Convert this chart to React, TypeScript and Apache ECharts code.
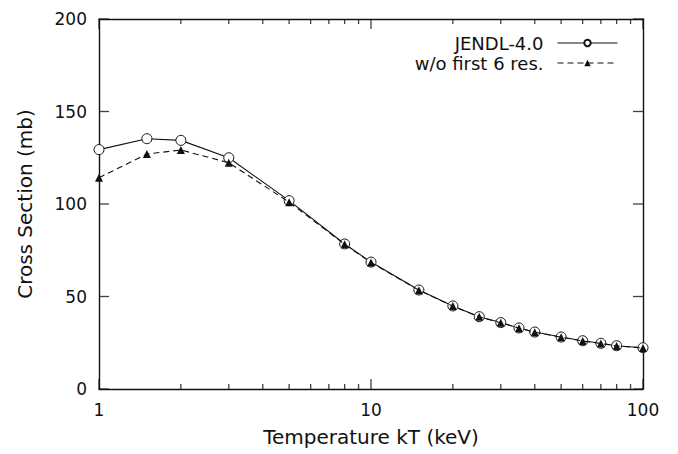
import React, { useEffect, useRef } from "react";
import * as echarts from "echarts";

const temperatures = [1, 1.5, 2, 3, 5, 8, 10, 15, 20, 25, 30, 35, 40, 50, 60, 70, 80, 100];
const jendl = [129.4, 135.3, 134.4, 125, 101.8, 78.4, 68.6, 53.5, 44.9, 39.1, 35.9, 33, 30.8, 28.1, 26.1, 24.7, 23.4, 22.3];
const withoutFirst6 = [114.2, 127, 129.2, 122.3, 101, 78.2, 68.4, 53.4, 44.8, 39, 35.8, 32.9, 30.7, 28, 26, 24.6, 23.3, 22.2];
const majorXTicks = [1, 10, 100];
const minorXTicks = [2, 3, 4, 5, 6, 7, 8, 9, 20, 30, 40, 50, 60, 70, 80, 90];
const yTicks = [0, 50, 100, 150, 200];
const seriesNames = ["JENDL-4.0", "w/o first 6 res."];

const FONT = "'DejaVu Sans', 'Liberation Sans', Arial, sans-serif";
const X_MIN = 1;
const X_MAX = 100;
const Y_MIN = 0;
const Y_MAX = 200;

export default function App() {
  const ref = useRef<HTMLDivElement>(null);
  useEffect(() => {
    if (!ref.current) return;
    const chart = echarts.init(ref.current, null, { renderer: "svg" });
    const axisLine = { show: true, onZero: false, lineStyle: { color: "#111", width: 1.4 } };
    const xBase = {
      type: "log" as const,
      logBase: 10,
      min: X_MIN,
      max: X_MAX,
      axisLine,
      splitLine: { show: false },
      axisTick: { show: false },
    };
    const yBase = {
      type: "value" as const,
      min: Y_MIN,
      max: Y_MAX,
      interval: 50,
      axisLine,
      splitLine: { show: false },
      axisTick: { show: false },
    };
    const W = 1.3;
    const tickSeries = (data: number[][], size: number[], offset: number[]) => ({
      type: "scatter",
      silent: true,
      clip: false,
      symbol: "rect",
      symbolSize: size,
      symbolOffset: offset,
      itemStyle: { color: "#111", borderWidth: 0 },
      data,
      z: 5,
    });
    chart.setOption({
      animation: false,
      backgroundColor: "#fff",
      grid: { left: 99, right: 35, top: 19, bottom: 65 },
      legend: {
        orient: "vertical",
        right: 55,
        top: 29,
        align: "right",
        itemWidth: 60,
        itemHeight: 8,
        itemGap: 2,
        data: seriesNames,
        lineStyle: { width: 1 },
        textStyle: { fontFamily: FONT, fontSize: 18, color: "#111", lineHeight: 17, padding: [0, 9, 0, 0] },
      },
      xAxis: [
        {
          ...xBase,
          position: "bottom",
          name: "Temperature kT (keV)",
          nameLocation: "middle",
          nameGap: 38,
          nameTextStyle: { fontFamily: FONT, fontSize: 20, color: "#111" },
          axisLabel: {
            fontFamily: FONT,
            fontSize: 17,
            color: "#111",
            margin: 12,
            formatter: (v: number) => String(Math.round(v)),
          },
        },
        { ...xBase, position: "top", axisLabel: { show: false } },
      ],
      yAxis: [
        {
          ...yBase,
          position: "left",
          name: "Cross Section (mb)",
          nameLocation: "middle",
          nameGap: 64,
          nameTextStyle: { fontFamily: FONT, fontSize: 20, color: "#111" },
          axisLabel: { fontFamily: FONT, fontSize: 17, color: "#111", margin: 12 },
        },
        { ...yBase, position: "right", axisLabel: { show: false } },
      ],
      series: [
        {
          name: seriesNames[0],
          type: "line",
          data: temperatures.map((t, i) => [t, jendl[i]]),
          symbol: "circle",
          symbolSize: 10,
          lineStyle: { color: "#111", width: 1.1, type: "solid" },
          itemStyle: { color: "#fff", borderColor: "#111", borderWidth: 1 },
          z: 3,
        },
        {
          name: seriesNames[1],
          type: "line",
          data: temperatures.map((t, i) => [t, withoutFirst6[i]]),
          symbol: "triangle",
          symbolSize: 8,
          lineStyle: { color: "#111", width: 1.1, type: [6, 4] },
          itemStyle: { color: "#111", borderWidth: 0 },
          z: 4,
        },
        tickSeries(majorXTicks.map((v) => [v, Y_MIN]), [W, 10], [0, -5]),
        tickSeries(majorXTicks.map((v) => [v, Y_MAX]), [W, 10], [0, 5]),
        tickSeries(minorXTicks.map((v) => [v, Y_MIN]), [W, 5], [0, -2.5]),
        tickSeries(minorXTicks.map((v) => [v, Y_MAX]), [W, 5], [0, 2.5]),
        tickSeries(yTicks.map((v) => [X_MIN, v]), [10, W], [5, 0]),
        tickSeries(yTicks.map((v) => [X_MAX, v]), [10, W], [-5, 0]),
      ],
    });
    return () => chart.dispose();
  }, []);
  return <div ref={ref} style={{ width: 678, height: 454, position: "absolute", left: 0, top: 0 }} />;
}
